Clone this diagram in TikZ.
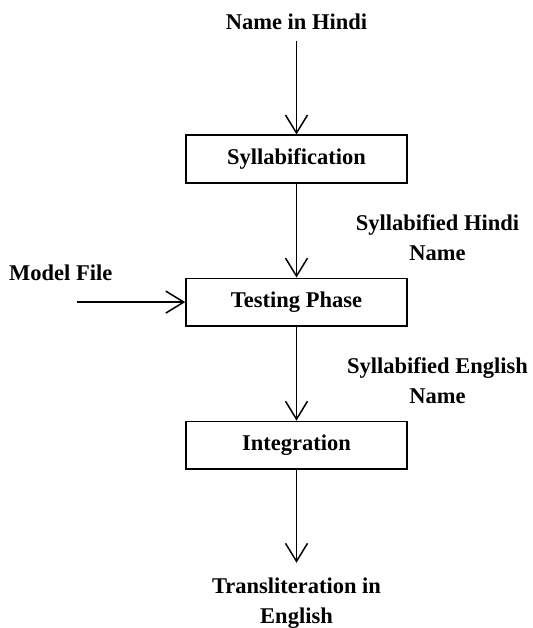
\documentclass[tikz,border=0pt]{standalone}
\usepackage{fontspec}
\setmainfont{Liberation Serif}
\usetikzlibrary{arrows.meta, positioning}

\begin{document}
\begin{tikzpicture}[
x=1pt, y=1pt,
node distance=94pt,
font=\fontsize{22.5}{30}\selectfont\bfseries,
process/.style={rectangle, draw, line width=1.6pt, minimum width=221pt, minimum height=47.5pt, align=center},
io/.style={inner sep=0pt, align=center},
arrow/.style={-{Straight Barb[length=18pt, width=22pt]}, line width=1.5pt}
]
\useasboundingbox (0,0) rectangle (532,-628);

\node[process] (syll) at (296.5,-159) {Syllabification};
\node[process, below=of syll] (test) {Testing Phase};
\node[process, below=of test] (integ) {Integration};
\node[io, above=105pt of syll] (name) {Name in Hindi};
\node[io, below=108pt of integ] (out) {Transliteration in\\English};
\coordinate[left=108pt of test.west] (mfin);
\node[io] (model) at ([xshift=-16.5pt, yshift=29pt]mfin) {Model File};

\draw[arrow, shorten <=12pt] (name) -- (syll);
\draw[arrow] (syll) -- node[io, xshift=141pt, yshift=-7pt] (shn) {Syllabified Hindi\\Name} (test);
\draw[arrow] (mfin) -- (test);
\draw[arrow] (test) -- node[io, xshift=141pt, yshift=-7pt] (sen) {Syllabified English\\Name} (integ);
\draw[arrow, shorten >=15pt] (integ) -- (out);

\end{tikzpicture}
\end{document}
